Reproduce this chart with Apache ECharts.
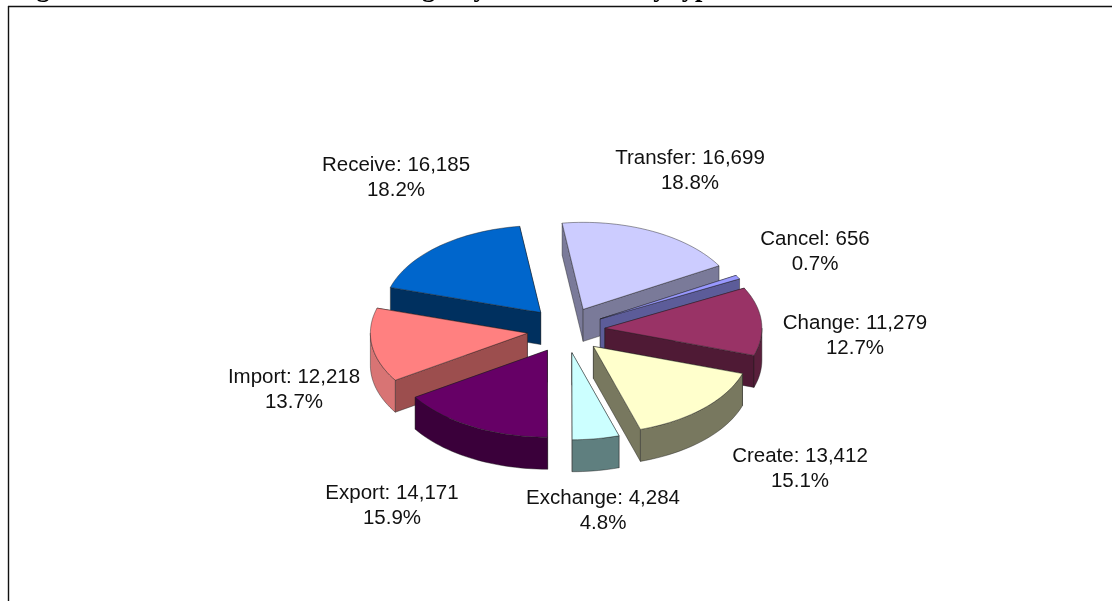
<!DOCTYPE html>
<html>
<head>
<meta charset="utf-8">
<style>
  html, body { margin: 0; padding: 0; background: #fff; }
  #main { width: 1112px; height: 601px; }
</style>
<script src="https://cdn.jsdelivr.net/npm/echarts@6/dist/echarts.min.js"></script>
</head>
<body>
<div id="main"></div>
<script>
var titleText = 'Figure 4: National Sealed Source Registry transactions by type for 2005'
var categories = ['Transfer', 'Cancel', 'Change', 'Create', 'Exchange', 'Export', 'Import', 'Receive']
var values = [16699, 656, 11279, 13412, 4284, 14171, 12218, 16185]
var topColors = ['#CCCCFF', '#9999FF', '#993366', '#FFFFCC', '#CCFFFF', '#660066', '#FF8080', '#0066CC']
var sideColors = ['#7A7A99', '#5C5C99', '#4F1A35', '#78785F', '#5F7F7F', '#3A003A', '#9C4E4E', '#00305F']
var arcColors = ['#7A7A99', '#5C5C99', '#5A1F3C', '#78785F', '#5F7F7F', '#3A003A', '#D87474', '#00305F']
// centre of each label, picked by eye
var labelX = [690, 815, 855, 800, 603, 392, 294, 396]
var labelY = [171, 252, 336, 469, 511, 506, 390, 178]
// back to front, so nearer slices cover farther ones
var drawOrder = [7, 0, 1, 2, 6, 3, 5, 4]

var pie = { cx: 566, cy: 330, rx: 157, ry: 87, depth: 32, startDeg: -7.7, explodeX: 39, explodeY: 23 }

var total = values.reduce(function (a, b) { return a + b }, 0)
var angles = []
var sum = 0
values.forEach(function (v) {
    var from = pie.startDeg + sum / total * 360
    sum += v
    angles.push([from, pie.startDeg + sum / total * 360])
})

function rad(deg) {
    return deg * Math.PI / 180
}

function fmt(v) {
    return String(v).replace(/\B(?=(\d{3})+$)/g, ',')
}

function renderSlice(params, api) {
    var i = api.value(0)
    var a0 = angles[i][0]
    var a1 = angles[i][1]
    var mid = rad((a0 + a1) / 2)
    var tipX = pie.cx + pie.explodeX * Math.sin(mid)
    var tipY = pie.cy - pie.explodeY * Math.cos(mid)
    function arcPoints(from, to) {
        var pts = []
        var n = Math.max(2, Math.ceil((to - from) / 2))
        for (var k = 0; k <= n; k++) {
            var t = rad(from + (to - from) * k / n)
            pts.push([tipX + pie.rx * Math.sin(t), tipY - pie.ry * Math.cos(t)])
        }
        return pts
    }
    var tip = [tipX, tipY]
    var arc = arcPoints(a0, a1)
    function down(p) {
        return [p[0], p[1] + pie.depth]
    }
    function face(points, color) {
        return {
            type: 'polygon',
            shape: { points: points },
            style: { fill: color, stroke: 'rgba(30,30,30,0.55)', lineWidth: 0.8, lineJoin: 'round' }
        }
    }
    // the cut edge whose outer end sits higher on screen goes first
    var ends = [arc[0], arc[arc.length - 1]].sort(function (p, q) { return p[1] - q[1] })
    var children = [
        face([tip, ends[0], down(ends[0]), down(tip)], sideColors[i]),
        face([tip, ends[1], down(ends[1]), down(tip)], sideColors[i])
    ]
    // outer wall only shows on the front half of the ellipse
    var wallFrom = Math.max(a0, 90)
    var wallTo = Math.min(a1, 270)
    if (wallTo > wallFrom) {
        var wall = arcPoints(wallFrom, wallTo)
        children.push(face(wall.concat(wall.map(down).reverse()), arcColors[i]))
    }
    children.push(face([tip].concat(arc), topColors[i]))
    return { type: 'group', children: children }
}

function renderLabel(params, api) {
    var i = api.value(0)
    return {
        type: 'text',
        x: labelX[i],
        y: labelY[i],
        style: {
            text: categories[i] + ': ' + fmt(values[i]) + '\n' + (values[i] / total * 100).toFixed(1) + '%',
            fill: '#111',
            font: '20.5px "Liberation Sans", Arial, sans-serif',
            lineHeight: 24.5,
            align: 'center',
            verticalAlign: 'middle'
        }
    }
}

var chart = echarts.init(document.getElementById('main'), null, { renderer: 'canvas' })
chart.setOption({
    animation: false,
    backgroundColor: '#fff',
    title: {
        text: titleText,
        left: 8,
        top: -29,
        textStyle: { fontFamily: '"Liberation Serif", "Times New Roman", serif', fontWeight: 'bold', fontSize: 26.5, color: '#000' }
    },
    graphic: [
        { type: 'line', shape: { x1: 8, y1: 6.5, x2: 1112, y2: 6.5 }, style: { stroke: '#111', lineWidth: 1.4 } },
        { type: 'line', shape: { x1: 8.5, y1: 6, x2: 8.5, y2: 601 }, style: { stroke: '#111', lineWidth: 1.4 } }
    ],
    series: [
        {
            type: 'custom',
            coordinateSystem: 'none',
            silent: true,
            data: drawOrder.map(function (i) { return [i] }),
            renderItem: renderSlice
        },
        {
            type: 'custom',
            coordinateSystem: 'none',
            silent: true,
            data: categories.map(function (c, i) { return [i] }),
            renderItem: renderLabel
        }
    ]
})
</script>
</body>
</html>
